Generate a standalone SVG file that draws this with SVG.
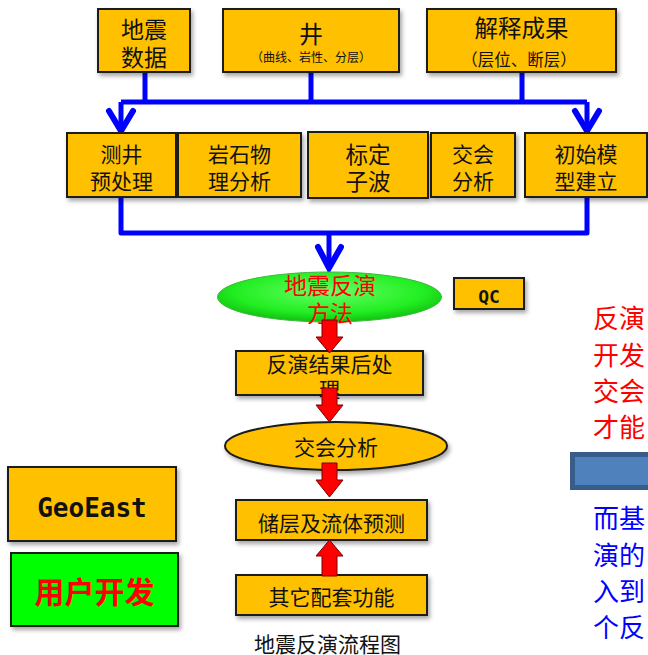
<svg xmlns="http://www.w3.org/2000/svg" width="648" height="655" viewBox="0 0 648 655">
<defs>
<style>
.box{fill:#FFC000;stroke:#1a1a1a;stroke-width:2;filter:url(#sh)}
.t{font-family:"Noto Sans CJK SC","Noto Sans",sans-serif;fill:#111;text-anchor:middle}
.blue{fill:none;stroke:#0000FF;stroke-width:5;stroke-linejoin:round}
.chev{fill:none;stroke:#0000FF;stroke-width:6;stroke-linecap:round;stroke-linejoin:miter;stroke-miterlimit:10}
.red{fill:#FF0000;stroke:#7a0000;stroke-width:1}
.mono{font-family:"DejaVu Sans Mono","Liberation Mono",monospace;font-weight:bold;fill:#111;text-anchor:middle}
</style>
<filter id="sh" x="-10%" y="-15%" width="125%" height="145%">
<feDropShadow dx="2" dy="3" stdDeviation="2" flood-color="#000" flood-opacity="0.35"/>
</filter>
<radialGradient id="gg" cx="50%" cy="40%" r="60%">
<stop offset="0" stop-color="#66ff66"/>
<stop offset="0.7" stop-color="#22ee22"/>
<stop offset="1" stop-color="#10c010"/>
</radialGradient>
</defs>
<rect width="648" height="655" fill="#fff"/>

<g id="connectors">
<path class="blue" d="M145,72 V102 M311,72 V102 M522,72 V102 M121,102 H587 M121,102 V128 M587,102 V128"/>
<polyline class="chev" points="109,111 121,131 133,111"/>
<polyline class="chev" points="575,111 587,131 599,111"/>
<path class="blue" d="M121,197 V233 H587 V197 M329,233 V266"/>
<polyline class="chev" points="318,247 329,268 341,247"/>
</g>

<g id="n-dizhen"><rect class="box" x="98" y="9" width="92" height="63"/>
<text class="t" x="144" y="38" font-size="23">地震</text><text class="t" x="144" y="66" font-size="23">数据</text></g>
<g id="n-jing"><rect class="box" x="223" y="9" width="176" height="63"/>
<text class="t" x="311" y="43" font-size="24">井</text><text class="t" x="311" y="62" font-size="12">（曲线、岩性、分层）</text></g>
<g id="n-jieshi"><rect class="box" x="427" y="9" width="189" height="63"/>
<text class="t" x="521.5" y="37" font-size="23.5">解释成果</text><text class="t" x="519" y="66" font-size="16.5">（层位、断层）</text></g>

<g id="n-cejing"><rect class="box" x="67" y="133" width="109" height="64"/>
<text class="t" x="121.5" y="162" font-size="21">测井</text><text class="t" x="121.5" y="189" font-size="21">预处理</text></g>
<g id="n-yanshi"><rect class="box" x="178" y="133" width="123" height="64"/>
<text class="t" x="239.5" y="162" font-size="21">岩石物</text><text class="t" x="239.5" y="189" font-size="21">理分析</text></g>
<g id="n-biaoding"><rect class="box" x="308" y="132" width="120" height="66"/>
<text class="t" x="368" y="163" font-size="22.5">标定</text><text class="t" x="368" y="190" font-size="22.5">子波</text></g>
<g id="n-jiaohui"><rect class="box" x="431" y="133" width="84" height="64"/>
<text class="t" x="473" y="162" font-size="21">交会</text><text class="t" x="473" y="189" font-size="21">分析</text></g>
<g id="n-chushi"><rect class="box" x="525" y="133" width="122" height="64"/>
<text class="t" x="586" y="162" font-size="21">初始模</text><text class="t" x="586" y="189" font-size="21">型建立</text></g>

<g id="n-fanyan"><ellipse cx="329.5" cy="297" rx="112" ry="25" fill="url(#gg)" stroke="#3cb83c" stroke-width="1"/>
<text class="t" x="330" y="294" font-size="23" style="fill:#FF0000">地震反演</text><text class="t" x="330" y="322" font-size="23" style="fill:#FF0000">方法</text></g>
<g id="n-qc"><rect class="box" x="454" y="278" width="70" height="31"/>
<text class="mono" x="489" y="303" font-size="18">QC</text></g>

<g id="n-houchuli"><rect class="box" x="236" y="351" width="187" height="44"/>
<text class="t" x="329.5" y="372" font-size="21">反演结果后处</text><text class="t" x="329.5" y="397" font-size="21">理</text></g>
<g id="n-jiaohui2"><ellipse cx="336" cy="446" rx="111" ry="24" fill="#FFC000" stroke="#1a1a1a" stroke-width="2" filter="url(#sh)"/>
<text class="t" x="336" y="455" font-size="21">交会分析</text></g>
<g id="n-chuceng"><rect class="box" x="236" y="500" width="191" height="40"/>
<text class="t" x="331.5" y="531" font-size="21">储层及流体预测</text></g>
<g id="n-qita"><rect class="box" x="236" y="575" width="191" height="40"/>
<text class="t" x="331.5" y="605" font-size="21">其它配套功能</text></g>

<g id="red-arrows">
<polygon class="red" points="322,320 337,320 337,337 343,337 329.5,353 316,337 322,337"/>
<polygon class="red" points="322,388 337,388 337,405 343,405 329.5,422 316,405 322,405"/>
<polygon class="red" points="322,463 337,463 337,480 343,480 329.5,497 316,480 322,480"/>
<polygon class="red" points="329.5,540 343,556 337,556 337,576 322,576 322,556 316,556"/>
</g>

<g id="n-geoeast"><rect class="box" x="8" y="467" width="168" height="74"/>
<text class="mono" x="92" y="517" font-size="26">GeoEast</text></g>
<g id="n-yonghu"><rect x="11" y="553" width="167" height="73" fill="#00FF00" stroke="#1a1a1a" stroke-width="2" filter="url(#sh)"/>
<text class="t" x="94.5" y="603" font-size="30" font-weight="bold" style="fill:#FF0000">用户开发</text></g>

<text class="t" x="327.5" y="652" font-size="21">地震反演流程图</text>

<g id="side-text" font-family="'Noto Sans CJK SC','Noto Sans',sans-serif" font-size="26">
<text x="593" y="328" fill="#FF0000">反演</text>
<text x="593" y="365" fill="#FF0000">开发</text>
<text x="593" y="401" fill="#FF0000">交会</text>
<text x="593" y="437" fill="#FF0000">才能</text>
<rect x="572.5" y="454.5" width="100" height="33" fill="#4F81BD" stroke="#385D8A" stroke-width="5"/>
<text x="593" y="528" fill="#0000FF">而基</text>
<text x="593" y="565" fill="#0000FF">演的</text>
<text x="593" y="601" fill="#0000FF">入到</text>
<text x="593" y="637" fill="#0000FF">个反</text>
</g>
</svg>
